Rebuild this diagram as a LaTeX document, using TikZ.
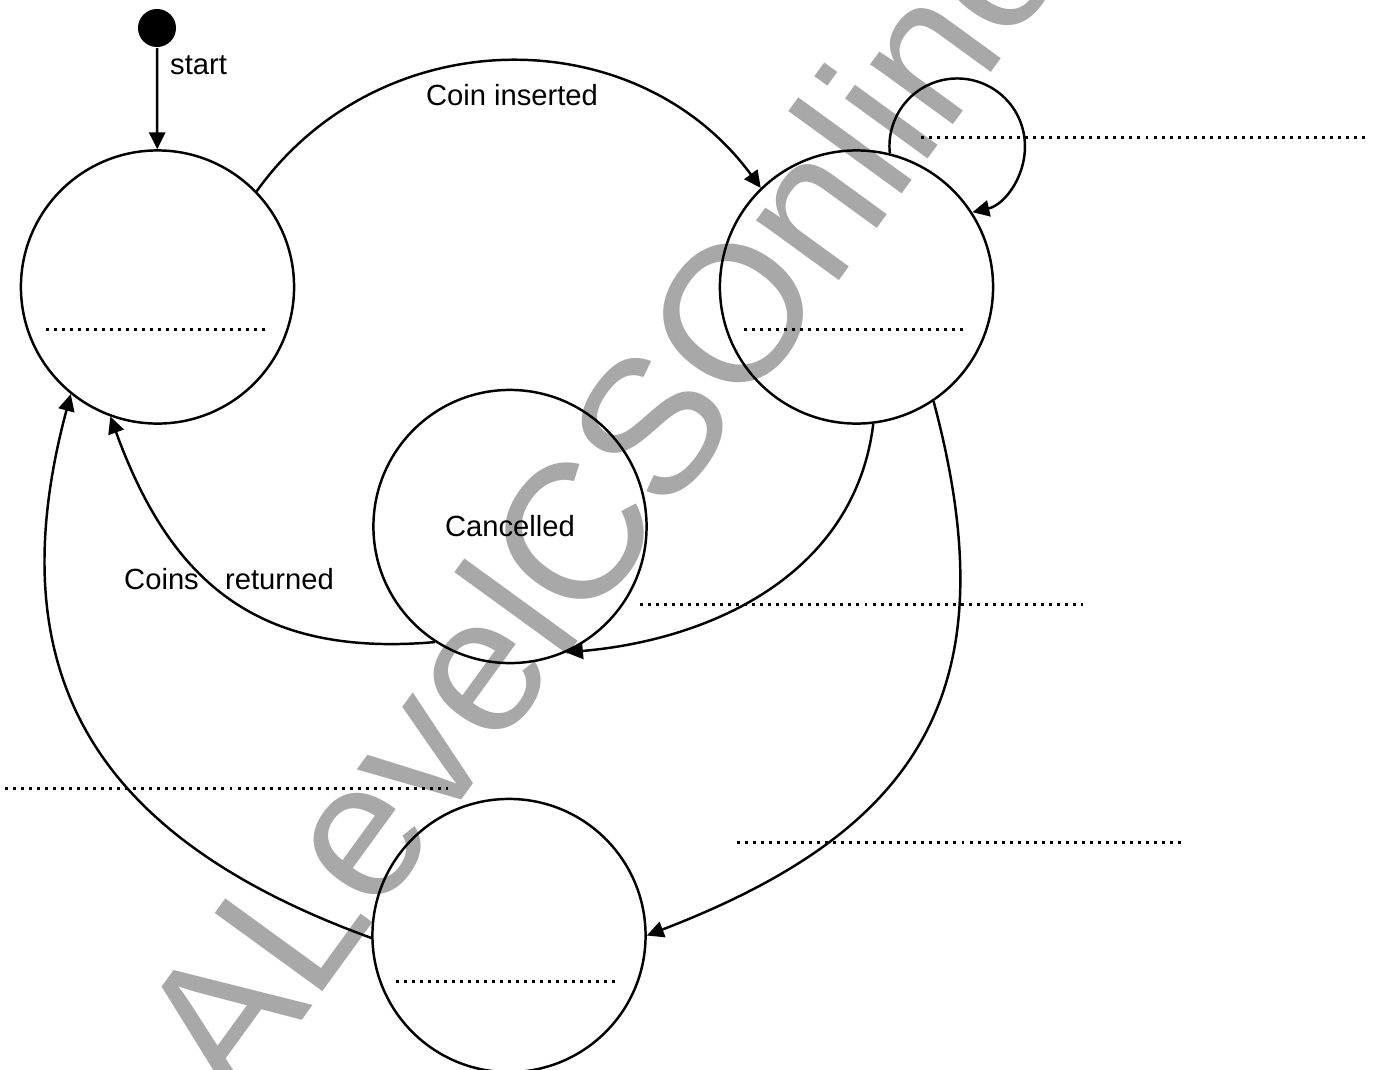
\documentclass[tikz,border=0pt]{standalone}
\usepackage{fontspec}
\setmainfont{Liberation Sans}
\usetikzlibrary{arrows.meta}
\definecolor{wmgray}{RGB}{168,168,168}

\begin{document}
\begin{tikzpicture}[x=0.01cm, y=0.01cm, line width=0.7pt,
    >={Triangle[length=4.8pt,width=4.6pt]},
    state/.style={circle, draw, minimum size=2.73cm, inner sep=0pt, font=\fontsize{8.3}{10}\selectfont},
    startdot/.style={circle, fill=black, minimum size=0.38cm, inner sep=0pt},
    lbl/.style={font=\fontsize{8.3}{10}\selectfont, inner sep=0pt},
    blank/.style={line width=0.85pt, dash pattern=on 0.85pt off 1.43pt},
    watermark/.style={font=\fontsize{55}{60}\selectfont, text=wmgray, inner sep=0pt}]

            \useasboundingbox ( 0, 0 ) rectangle ( 1378, -1069 );

            % водяной знак
            \node [watermark, anchor=base west, rotate=54] (wm) at ( 237, -1110 ) {ALevelCSOnline};

            % состояния
            \node [startdot] (init) at ( 157, -28 ) {};
            \node [state] (s1) at ( 157.5, -287 ) {};
            \node [state] (s2) at ( 856.5, -287 ) {};
            \node [state] (canc) at ( 510, -526.5 ) {Cancelled};
            \node [state] (s4) at ( 509, -935.5 ) {};

            % подписи
            \node [lbl, anchor=base west] (startlbl) at ( 169, -74 ) {start};
            \node [lbl, anchor=base] (coinlbl) at ( 512, -105 ) {Coin inserted};
            \node [lbl, anchor=base west] (retlbl) at ( 123, -589 ) {Coins\hspace{0.9em}returned};

            % переходы
            \draw [->] (init) -- (s1);
            \draw [->] (s1.44) to [bend left=54, looseness=1.07] (s2.134);
            \draw [->] (s2.76) arc [start angle=186, end angle=-77, radius=0.677cm];
            \draw [->] (s2.-83) to [out=-97, in=5] (canc.-66);
            \draw [->] (canc.237) to [out=185, in=-70, looseness=1.15] (s1.250);
            \draw [->] (s2.-56) to [out=-75, in=21, looseness=1.25] (s4.0);
            \draw [->] (s4.181) to [out=160, in=-105, looseness=1.2] (s1.231.5);

            % пропуски
            \draw [blank] ( 46, -329 ) -- ( 270, -329 );
            \draw [blank] ( 744, -329 ) -- ( 968, -329 );
            \draw [blank] ( 921, -137 ) -- ( 1365, -137 );
            \draw [blank] ( 640, -604 ) -- ( 1083, -604 );
            \draw [blank] ( 5, -788 ) -- ( 448, -788 );
            \draw [blank] ( 737, -842 ) -- ( 1181, -842 );
            \draw [blank] ( 396, -981 ) -- ( 620, -981 );
\end{tikzpicture}
\end{document}
